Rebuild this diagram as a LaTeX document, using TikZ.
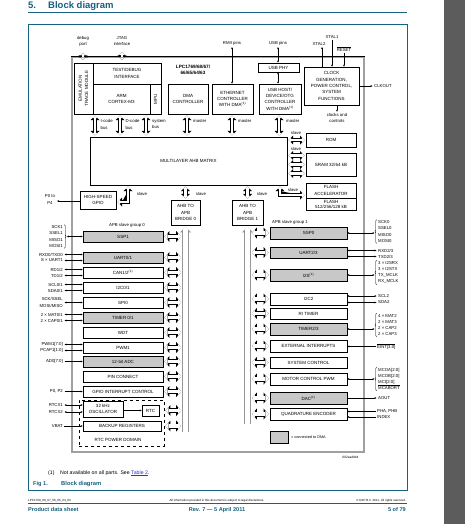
\documentclass[tikz,border=0pt]{standalone}
\usepackage{fontspec}
\setmainfont{Liberation Sans}
\usetikzlibrary{arrows.meta,decorations.pathreplacing,calc}
\definecolor{nxpteal}{RGB}{22,98,128}
\definecolor{dmagray}{RGB}{200,200,200}
\definecolor{chipgray}{RGB}{160,160,160}
\definecolor{busgray}{RGB}{150,150,150}
\definecolor{stripgray}{RGB}{92,92,92}
\definecolor{linkblue}{RGB}{30,60,200}
\newcommand\fsbox{\fontsize{4.5}{6.3}\selectfont}
\newcommand\fssig{\fontsize{4.3}{6.1}\selectfont}
\newcommand\ovl[1]{$\overline{\hbox{#1}}$}
\newcommand\mybx[7]{\node[blk,#6,minimum width={(#4)-(#2)},minimum height={(#5)-(#3)}] (#1) at ({((#2)+(#4))/2},{((#3)+(#5))/2}) {#7};}
\begin{document}
\begin{tikzpicture}[x=1pt,y=-1pt,
 blk/.style={draw,line width=0.75pt,fill=white,font=\fsbox,align=center,inner sep=0pt},
 dma/.style={fill=dmagray},
 lbl/.style={font=\fssig,inner sep=0pt},
 hol/.style={preaction={draw=black,fill=black,line width=4.2pt,arrows={Triangle[length=4.5pt,width=9pt,line width=0pt,fill=black]-Triangle[length=4.5pt,width=9pt,line width=0pt,fill=black]}},
   draw=white,line width=2.6pt,arrows={Triangle[length=2.6pt,width=5.2pt,line width=0pt,fill=white]-Triangle[length=2.6pt,width=5.2pt,line width=0pt,fill=white]},shorten >=1.13pt,shorten <=1.13pt},
 holw/.style={preaction={draw=black,line width=5pt,arrows={Triangle[length=5pt,width=11pt,line width=0pt,fill=black]-Triangle[length=5pt,width=11pt,line width=0pt,fill=black]}},
   draw=white,line width=3.4pt,arrows={Triangle[length=3.1pt,width=6.9pt,line width=0pt,fill=white]-Triangle[length=3.1pt,width=6.9pt,line width=0pt,fill=white]},shorten >=1.08pt,shorten <=1.08pt},
 bus/.style={preaction={draw=busgray,line width=6.6pt,arrows={-Triangle[length=5.5pt,width=11pt,line width=0pt,fill=busgray]}},
   draw=white,line width=4.6pt,arrows={-Triangle[length=3.1pt,width=6.2pt,line width=0pt,fill=white]},shorten >=1.41pt,shorten <=1pt},
 sig/.style={line width=0.5pt,{Stealth[length=2pt,width=1.9pt]}-{Stealth[length=2pt,width=1.9pt]}},
 sigin/.style={line width=0.5pt,-{Stealth[length=2pt,width=1.9pt]}},
 brc/.style={decorate,decoration={brace,amplitude=1.5pt},line width=0.45pt},
]
\fill[white] (0,0) rectangle (465,524);
\fill[stripgray] (444,0) rectangle (465,524);
\path[use as bounding box] (0,0) rectangle (465,524);

% title and frame
\node[anchor=base west,inner sep=0,font=\fontsize{9.5}{11}\selectfont\bfseries,text=nxpteal] (tnum) at (28,8.5) {5.};
\node[anchor=base west,inner sep=0,font=\fontsize{9.5}{11}\selectfont\bfseries,text=nxpteal] (ttl) at (48,8.5) {Block diagram};
\draw[nxpteal,line width=0.8pt] (28,12.5) -- (407,12.5);
\draw[nxpteal,line width=0.9pt] (28,24) rectangle (407,490);

% chip outline
\mybx{chip}{72}{57}{364}{452}{draw=chipgray,line width=1.1pt,fill=none}{}
\draw[line width=0.7pt] (chip.north west) -- (chip.north east);

% core area
\mybx{etm}{74}{63}{93}{114}{}{}
\node[rotate=90,font=\fsbox,align=center,inner sep=0] (etmt) at (etm.center) {EMULATION\\TRACE MODULE};
\mybx{tdi}{93}{63}{161}{84}{}{TEST/DEBUG\\INTERFACE}
\mybx{arm}{93}{84}{150}{114}{}{ARM\\CORTEX-M3}
\mybx{mpu}{150}{84}{161}{114}{}{}
\node[rotate=90,font=\fsbox,inner sep=0] (mput) at (mpu.center) {MPU};
\node[font=\fontsize{4.7}{6.3}\selectfont\bfseries,align=center,inner sep=0] (lpc) at (193,69.5) {LPC1769/68/67/\\66/65/64/63};
\mybx{dmac}{168}{84}{208}{114}{}{DMA\\CONTROLLER}
\mybx{eth}{212}{84}{253}{114}{}{ETHERNET\\CONTROLLER\\WITH DMA\textsuperscript{(1)}}
\mybx{usbphy}{258}{63}{299}{72}{}{USB PHY}
\mybx{usb}{259}{84}{301}{114}{}{USB HOST/\\DEVICE/OTG\\CONTROLLER\\WITH DMA\textsuperscript{(1)}}
\mybx{clk}{304}{67}{359}{105}{}{CLOCK\\GENERATION,\\POWER CONTROL,\\SYSTEM\\FUNCTIONS}

% top pins
\node[lbl,align=center] (dbgl) at (83,41) {debug\\port};
\node[lbl,align=center] (jtagl) at (122,41) {JTAG\\interface};
\draw[hol] ($(dbgl.south)+(0,5.5)$) -- ($(etm.north -| dbgl.south)+(0,-1.5)$);
\draw[hol] ($(jtagl.south)+(0,5.5)$) -- ($(tdi.north -| jtagl.south)+(0,-1.5)$);
\node[lbl] (rmii) at (232,43) {RMII pins};
\draw[sig] ($(rmii.south)+(0,2)$) -- (rmii.south |- eth.north);
\node[lbl] (usbp) at (278,43) {USB pins};
\draw[sig] ($(usbp.south)+(0,2)$) -- (usbp.south |- usbphy.north);
\draw[sig] (usbphy.south -| usbp.south) -- (usb.north -| usbp.south);
\node[lbl] (xt1) at (332,37) {XTAL1};
\node[lbl] (xt2) at (319,43.5) {XTAL2};
\node[lbl] (rst) at (344,49) {\ovl{RESET}};
\draw[sigin] ($(xt1.south)+(0,1)$) -- (clk.north -| xt1.south);
\draw[sigin] (clk.north -| 322,0) -- (322,47);
\draw[sigin] ($(rst.south)+(0,1)$) -- (clk.north -| rst.south);
\node[lbl,anchor=west] (clkout) at (374,86) {CLKOUT};
\draw[sigin] (clk.east |- clkout.west) -- ($(clkout.west)+(-1.5,0)$);
\node[lbl,align=center] (clkc) at (337,118) {clocks and\\controls};
\draw[sigin] (clk.south -| clkc.north) -- ($(clkc.north)+(0,-1.5)$);

% matrix
\mybx{matrix}{90}{137}{287}{185}{}{MULTILAYER AHB MATRIX}
\draw[hol] (arm.south -| 95,0) -- (matrix.north -| 95,0);
\draw[hol] (arm.south -| 120,0) -- (matrix.north -| 120,0);
\draw[hol] (arm.south -| 146,0) -- (matrix.north -| 146,0);
\draw[hol] (dmac.south -| 187,0) -- (matrix.north -| 187,0);
\draw[hol] (eth.south -| 232,0) -- (matrix.north -| 232,0);
\draw[hol] (usb.south -| 279,0) -- (matrix.north -| 279,0);
\node[lbl,anchor=west,align=left] (icb) at (100.5,124.5) {I-code\\bus};
\node[lbl,anchor=west,align=left] (dcb) at (125.5,124.5) {D-code\\bus};
\node[lbl,anchor=west,align=left] (sysb) at (152,124.5) {system\\bus};
\node[lbl,anchor=west] (m1) at (193,121.5) {master};
\node[lbl,anchor=west] (m2) at (238,121.5) {master};
\node[lbl,anchor=west] (m3) at (286,121.5) {master};

% memories
\mybx{rom}{306}{133}{356}{147}{}{ROM}
\mybx{sram}{306}{153}{356}{176}{}{SRAM 32/64 kB}
\mybx{flacc}{306}{183}{356}{198}{}{FLASH\\ACCELERATOR}
\mybx{flash}{306}{198}{356}{210}{}{FLASH\\[-1.2pt]512/256/128 kB}
\draw[hol] (matrix.east |- rom.west) -- (rom.west);
\draw[hol] (matrix.east |- 0,155.5) -- (sram.west |- 0,155.5);
\draw[hol] (matrix.east |- 0,164.5) -- (sram.west |- 0,164.5);
\draw[hol] (matrix.east |- 0,173.5) -- (sram.west |- 0,173.5);
\draw[hol] (matrix.south -| 280,0) |- (flacc.west |- 0,195);
\node[lbl] (sl1) at (296,133) {slave};
\node[lbl] (sl2) at (296,149) {slave};
\node[lbl] (sl3) at (293,190) {slave};

% gpio and bridges
\mybx{gpio}{80}{191}{116}{209}{}{HIGH-SPEED\\GPIO}
\draw[hol] (matrix.south -| 128,0) |- (gpio.east |- 0,202);
\node[lbl] (sl4) at (142,194) {slave};
\node[lbl,align=center] (p04) at (50,199.5) {P0 to\\P4};
\draw[sigin] (gpio.west |- 0,201) -- ($(p04.east |- 0,201)+(2,0)$);
\mybx{br0}{171}{200}{200}{225}{}{AHB TO\\APB\\BRIDGE 0}
\mybx{br1}{232}{200}{263}{225}{}{AHB TO\\APB\\BRIDGE 1}
\draw[hol] (matrix.south -| br0.north) -- (br0.north);
\draw[hol] (matrix.south -| br1.north) -- (br1.north);
\node[lbl] (sl5) at (201,194) {slave};
\node[lbl] (sl6) at (262,194) {slave};

% APB buses
\draw[bus] (br0.south |- 0,433) -- (br0.south);
\draw[bus] (br1.south |- 0,425) -- (br1.south);
\coordinate (b0l) at (182.2,0);
\coordinate (b1r) at (250.8,0);
\node[lbl] (g0) at (127,225) {APB slave group 0};
\node[lbl] (g1) at (290,222) {APB slave group 1};

% group 0
\mybx{ssp1}{83}{231}{163}{242}{dma}{SSP1}
\mybx{uart01}{83}{252}{163}{263}{dma}{UART0/1}
\mybx{can}{83}{267}{163}{278}{}{CAN1/2\textsuperscript{(1)}}
\mybx{i2c01}{83}{282}{163}{293}{}{I2C0/1}
\mybx{spi0}{83}{297}{163}{308}{}{SPI0}
\mybx{tmr01}{83}{312}{163}{323}{dma}{TIMER 0/1}
\mybx{wdt}{83}{327}{163}{338}{}{WDT}
\mybx{pwm1}{83}{342}{163}{353}{}{PWM1}
\mybx{adc}{83}{356}{163}{367}{dma}{12-bit ADC}
\mybx{pinc}{83}{371}{163}{382}{}{PIN CONNECT}
\mybx{gpioint}{83}{386}{163}{397}{}{GPIO INTERRUPT CONTROL}
\mybx{rtcdom}{79}{400}{164}{446}{dashed,fill=none,line width=0.8pt}{}
\mybx{osc}{83}{401}{123}{417}{}{32 kHz\\OSCILLATOR}
\mybx{rtc}{142}{405}{159}{416}{}{RTC}
\mybx{bkp}{83}{421}{161}{431}{}{BACKUP REGISTERS}
\node[font=\fsbox,inner sep=0] (rtcpd) at (118,440) {RTC POWER DOMAIN};
\draw[sigin] (osc.east |- rtc.west) -- (rtc.west);
\foreach \n in {ssp1,uart01,can,i2c01,spi0,tmr01,wdt,pwm1,adc,pinc,gpioint}
  \draw[holw] (\n.east) -- (\n.east -| b0l);
\draw[holw] (bkp.east -| rtcdom.east) -- (bkp.east -| b0l);
\draw[holw] (rtcdom.east |- rtc.east) -- (rtc.east -| b0l);

% group 0 signals
\coordinate (ltip) at (67,0);
\node[lbl,anchor=east,align=right] (ssp1l) at (63,236.5) {SCK1\\SSEL1\\MISO1\\MOSI1};
\draw[brc] ($(ssp1l.north east)+(1.5,-1)$) -- ($(ssp1l.south east)+(1.5,1)$);
\draw[sig] (ltip |- ssp1.west) -- (ssp1.west);
\node[lbl,anchor=east] (rxd0) at (63,254.5) {RXD0/TXD0};
\node[lbl,anchor=east] (u1) at (63,260.5) {8 × UART1};
\node[lbl,anchor=east] (rd12) at (63,269.5) {RD1/2};
\node[lbl,anchor=east] (td12) at (63,275.5) {TD1/2};
\node[lbl,anchor=east] (scl01) at (63,284.5) {SCL0/1};
\node[lbl,anchor=east] (sda01) at (63,290.5) {SDA0/1};
\node[lbl,anchor=east,align=right] (spil) at (63,302.5) {SCK/SSEL\\MOSI/MISO};
\node[lbl,anchor=east] (mat01) at (63,314.5) {2 × MAT0/1};
\node[lbl,anchor=east] (cap01) at (63,320.5) {2 × CAP0/1};
\node[lbl,anchor=east] (pwml) at (63,344.5) {PWM1[7:0]};
\node[lbl,anchor=east] (pcapl) at (63,350.5) {PCAP1[1:0]};
\node[lbl,anchor=east] (adl) at (63,361.5) {AD0[7:0]};
\node[lbl,anchor=east] (p02) at (63,391.5) {P0, P2};
\node[lbl,anchor=east] (rx1) at (63,405) {RTCX1};
\node[lbl,anchor=east] (rx2) at (63,412) {RTCX2};
\node[lbl,anchor=east] (vbat) at (63,426) {VBAT};
\draw[sig] ($(rxd0.east)+(1.5,0)$) -- (rxd0.east -| uart01.west);
\draw[sig] ($(u1.east)+(1.5,0)$) -- (u1.east -| uart01.west);
\draw[sig] ($(rd12.east)+(1.5,0)$) -- (rd12.east -| can.west);
\draw[sig] ($(td12.east)+(1.5,0)$) -- (td12.east -| can.west);
\draw[sig] ($(scl01.east)+(1.5,0)$) -- (scl01.east -| i2c01.west);
\draw[sig] ($(sda01.east)+(1.5,0)$) -- (sda01.east -| i2c01.west);
\draw[sig] ($(spil.east)+(1.5,0)$) -- (spil.east -| spi0.west);
\draw[sig] ($(mat01.east)+(1.5,0)$) -- (mat01.east -| tmr01.west);
\draw[sig] ($(cap01.east)+(1.5,0)$) -- (cap01.east -| tmr01.west);
\draw[sig] ($(pwml.east)+(1.5,0)$) -- (pwml.east -| pwm1.west);
\draw[sig] ($(pcapl.east)+(1.5,0)$) -- (pcapl.east -| pwm1.west);
\draw[sigin] ($(adl.east)+(1.5,0)$) -- (adl.east -| adc.west);
\draw[sigin] ($(p02.east)+(1.5,0)$) -- (p02.east -| gpioint.west);
\draw[sig] ($(rx1.east)+(1.5,0)$) -- (rx1.east -| osc.west);
\draw[sig] ($(rx2.east)+(1.5,0)$) -- (rx2.east -| osc.west);
\draw[sigin] ($(vbat.east)+(1,0)$) -- (vbat.east -| bkp.west);

% group 1
\mybx{ssp0}{270}{227}{347}{239}{dma}{SSP0}
\mybx{uart23}{270}{247}{347}{258}{dma}{UART2/3}
\mybx{i2s}{270}{269}{347}{281}{dma}{I2S\textsuperscript{(1)}}
\mybx{i2c2}{270}{293}{347}{305}{}{I2C2}
\mybx{ritmr}{270}{308}{347}{319}{}{RI TIMER}
\mybx{tmr23}{270}{323}{347}{335}{dma}{TIMER2/3}
\mybx{eint}{270}{340}{347}{352}{}{EXTERNAL INTERRUPTS}
\mybx{sysc}{270}{357}{347}{368}{}{SYSTEM CONTROL}
\mybx{mcpwm}{270}{373}{347}{385}{}{MOTOR CONTROL PWM}
\mybx{dac}{270}{392}{347}{404}{dma}{DAC\textsuperscript{(1)}}
\mybx{qei}{270}{408}{347}{420}{}{QUADRATURE ENCODER}
\foreach \n in {ssp0,uart23,i2s,i2c2,ritmr,tmr23,eint,sysc,mcpwm,dac,qei}
  \draw[holw] (\n.west -| b1r) -- (\n.west);

% group 1 signals
\coordinate (rtip) at (374.5,0);
\node[lbl,anchor=west,align=left] (ssp0l) at (378,231.5) {SCK0\\SSEL0\\MISO0\\MOSI0};
\draw[brc] ($(ssp0l.south west)+(-1.5,1)$) -- ($(ssp0l.north west)+(-1.5,-1)$);
\draw[sig] (ssp0.east) -- (ssp0.east -| rtip);
\node[lbl,anchor=west] (rxd2) at (378,250.5) {RXD2/3};
\node[lbl,anchor=west] (txd2) at (378,256.5) {TXD2/3};
\draw[sig] (uart23.east |- rxd2.west) -- ($(rxd2.west)+(-1.5,0)$);
\draw[sig] (uart23.east |- txd2.west) -- ($(txd2.west)+(-1.5,0)$);
\node[lbl,anchor=west,align=left] (i2sl) at (378,272.5) {3 × I2SRX\\3 × I2STX\\TX\_MCLK\\RX\_MCLK};
\draw[brc] ($(i2sl.south west)+(-1.5,1)$) -- ($(i2sl.north west)+(-1.5,-1)$);
\draw[sig] (i2s.east) -- (i2s.east -| rtip);
\node[lbl,anchor=west] (scl2) at (378,296) {SCL2};
\node[lbl,anchor=west] (sda2) at (378,302.5) {SDA2};
\draw[sig] (i2c2.east |- scl2.west) -- ($(scl2.west)+(-1.5,0)$);
\draw[sig] (i2c2.east |- sda2.west) -- ($(sda2.west)+(-1.5,0)$);
\node[lbl,anchor=west,align=left] (t23l) at (378,325) {4 × MAT2\\2 × MAT3\\2 × CAP2\\2 × CAP3};
\draw[brc] ($(t23l.south west)+(-1.5,1)$) -- ($(t23l.north west)+(-1.5,-1)$);
\draw[sig] (tmr23.east) -- (tmr23.east -| rtip);
\node[lbl,anchor=west] (eintl) at (377,346.5) {\ovl{EINT[3:0]}};
\draw[sigin] ($(eintl.west)+(-1.5,0)$) -- (eint.east |- eintl.west);
\node[lbl,anchor=west,align=left] (mcl) at (378,379) {MCOA[2:0]\\MCOB[2:0]\\MCI[2:0]\\\ovl{MCABORT}};
\draw[brc] ($(mcl.south west)+(-1.5,1)$) -- ($(mcl.north west)+(-1.5,-1)$);
\draw[sig] (mcpwm.east) -- (mcpwm.east -| rtip);
\node[lbl,anchor=west] (aout) at (378,398) {AOUT};
\draw[sigin] (dac.east |- aout.west) -- ($(aout.west)+(-1.5,0)$);
\node[lbl,anchor=west] (pha) at (377,411.5) {PHA, PHB};
\node[lbl,anchor=west] (idx) at (377,417) {INDEX};
\draw[sigin] ($(pha.west)+(-1.5,0)$) -- (qei.east |- pha.west);
\draw[sigin] ($(idx.west)+(-1.5,0)$) -- (qei.east |- idx.west);

% legend
\mybx{leg}{270}{431}{288}{443}{dma}{}
\node[lbl,anchor=west,font=\fontsize{3.8}{5}\selectfont] (legt) at (291,437) {= connected to DMA};
\node[lbl,font=\fontsize{3.2}{4}\selectfont] (code) at (350.5,457) {002aad944};

% caption
\node[anchor=base west,inner sep=0,font=\fontsize{5.2}{6}\selectfont] (fn1) at (48,474) {(1)};
\node[anchor=base west,inner sep=0,font=\fontsize{5.2}{6}\selectfont] (fn2) at (60,474) {Not available on all parts. See \textcolor{linkblue}{\underline{Table 2}}.};
\node[anchor=base west,inner sep=0,font=\fontsize{5.6}{6}\selectfont\bfseries,text=nxpteal] (fig1) at (33,485.5) {Fig 1.};
\node[anchor=base west,inner sep=0,font=\fontsize{5.8}{6}\selectfont\bfseries,text=nxpteal] (fig2) at (61,485.5) {Block diagram};

% footer
\node[anchor=base west,inner sep=0,font=\fontsize{3}{4}\selectfont] (f1) at (28,501.5) {LPC1769\_68\_67\_66\_65\_64\_63};
\node[anchor=base,inner sep=0,font=\fontsize{3}{4}\selectfont] (f2) at (217,501.5) {All information provided in this document is subject to legal disclaimers.};
\node[anchor=base east,inner sep=0,font=\fontsize{3}{4}\selectfont] (f3) at (406,501.5) {© NXP B.V. 2011. All rights reserved.};
\draw[nxpteal,line width=0.6pt] (28,503.5) -- (407,503.5);
\node[anchor=base west,inner sep=0,font=\fontsize{5.6}{6}\selectfont\bfseries,text=nxpteal] (f4) at (28,511.5) {Product data sheet};
\node[anchor=base,inner sep=0,font=\fontsize{5.6}{6}\selectfont\bfseries,text=nxpteal] (f5) at (217,511.5) {Rev. 7 — 5 April 2011};
\node[anchor=base east,inner sep=0,font=\fontsize{5.6}{6}\selectfont\bfseries,text=nxpteal] (f6) at (406,511.5) {5 of 79};
\end{tikzpicture}
\end{document}
